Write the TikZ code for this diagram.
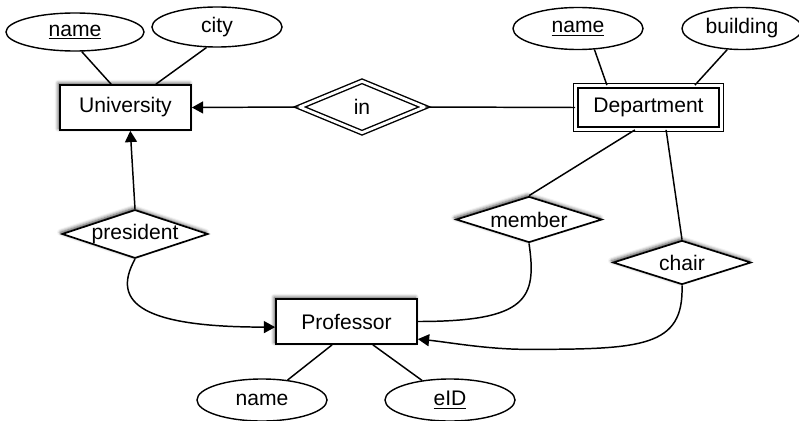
\documentclass[tikz,border=0pt]{standalone}
\usepackage{fontspec}
\setmainfont{Liberation Sans}
\usetikzlibrary{shapes.geometric,arrows.meta,shadows.blur}

\begin{document}
\begin{tikzpicture}[x=0.025cm, y=-0.025cm, >={Triangle[length=8pt,width=8.5pt]},
		font=\fontsize{15}{17}\selectfont,
		entity/.style={draw, line width=1.2pt, fill=white, inner sep=0pt, minimum height=1.125cm},
		weakentity/.style={entity, line width=1pt, double, double distance=2pt},
		relation/.style={draw, diamond, line width=1.2pt, fill=white, inner sep=0pt, aspect=3},
		attr/.style={draw, ellipse, line width=1pt, inner sep=0pt, minimum width=3.25cm, minimum height=1cm},
		glow/.style={blur shadow={shadow xshift=-1.2pt, shadow yshift=1.2pt, shadow blur radius=2.5pt, shadow opacity=75}},
		link/.style={line width=1.05pt}]
			\useasboundingbox (0,0) rectangle (799,420);
			% entities
			\node[entity, glow, minimum width=3.275cm] (univ) at (125.5,107.5) {University};
			\node[weakentity, minimum width=3.635cm, minimum height=1.085cm] (dept) at (648.5,107.5) {Department};
			\node[entity, glow, minimum width=3.525cm] (prof) at (346.5,321.5) {Professor};
			% relationships
			\node[relation, line width=1pt, double, double distance=2pt, minimum width=3.13cm, minimum height=1.3cm] (in) at (362,107) {in};
			\node[relation, glow, minimum width=3.65cm, minimum height=1.17cm] (pres) at (135,234) {president};
			\node[relation, glow, minimum width=3.65cm, minimum height=1.15cm] (memb) at (529,219.5) {member};
			\node[relation, glow, minimum width=3.45cm, minimum height=1.1cm] (chair) at (682,262.5) {chair};
			% attributes
			\node[attr, minimum width=3.45cm, minimum height=0.95cm] (uname) at (75,32) {\underline{name}};
			\node[attr] (ucity) at (217,27) {city};
			\node[attr, minimum height=1.05cm] (dname) at (578,28.5) {\underline{name}};
			\node[attr, minimum width=3cm, minimum height=1.05cm] (dbuild) at (742,28.5) {building};
			\node[attr, minimum height=1.05cm] (pname) at (262,400) {name};
			\node[attr, minimum height=1.05cm] (peid) at (450,400) {\underline{eID}};

			\draw[link] (uname.-71) -- ([xshift=-0.36cm]univ.north);
			\draw[link] (ucity.-117) -- ([xshift=0.76cm]univ.north);
			\draw[link] (dname.-52) -- ([xshift=-1.04cm]dept.north);
			\draw[link] (dbuild.-125) -- ([xshift=1.16cm]dept.north);
			\draw[link] ([xshift=-0.36cm]prof.south) -- (pname.38);
			\draw[link] ([xshift=0.66cm]prof.south) -- (peid.145);

			\draw[link,->] (in.west) -- (univ.east);
			\draw[link] (in.east) -- (dept.west);
			\draw[link,->] (pres.north) -- ([xshift=0.12cm]univ.south);
			\draw[link] ([xshift=-0.34cm]dept.south) -- (memb.north);
			\draw[link] ([xshift=0.44cm]dept.south) -- (chair.north);
			\draw[link,->] (pres.south) .. controls +(-25,45) and +(-130,0) .. ([yshift=-0.14cm]prof.west);
			\draw[link] (memb.south) .. controls +(8,55) and +(110,0) .. (prof.east);
			\draw[link,->] (chair.south) .. controls +(2,62) and +(115,0) .. +(-155,64)
				.. controls +(-40,0) and +(30,3) .. ([yshift=-0.44cm]prof.east);
		\end{tikzpicture}
\end{document}
